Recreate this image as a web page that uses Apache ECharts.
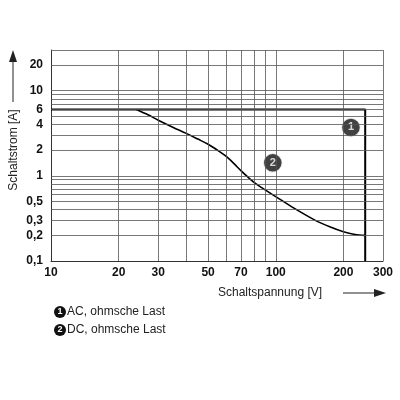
<!DOCTYPE html><html><head><meta charset="utf-8"><script src="https://cdn.jsdelivr.net/npm/echarts@6/dist/echarts.min.js"></script></head><body style="margin:0;background:#fff"><div id="c" style="width:400px;height:400px"></div><script>
const xTicks=[10,20,30,50,70,100,200,300];
const yTicks=[0.1,0.2,0.3,0.5,1,2,4,6,10,20];
const xGrid=[20,30,40,50,60,70,80,90,100,200,300];
const yGrid=[0.2,0.3,0.4,0.5,0.6,0.7,0.8,0.9,1,2,3,4,5,6,7,8,9,10,20,30];
const acX=[10,250,250];const acY=[6,6,0.1];
const dcX=[24,27,30,35,40,45,50,55,60,65,70,75,80,90,100,120,150,175,200,225,250];
const dcY=[6,5.2,4.5,3.7,3.15,2.7,2.35,2.0,1.7,1.4,1.15,0.97,0.84,0.68,0.57,0.42,0.3,0.25,0.22,0.205,0.2];
const markers=[{x:216,y:3.7,t:'1'},{x:97,y:1.42,t:'2'}];
const legend=['AC, ohmsche Last','DC, ohmsche Last'];
const ch=echarts.init(document.getElementById('c'));
ch.setOption({animation:false,
grid:{left:51,right:17,top:50,bottom:139},
xAxis:{type:'log',logBase:10,min:10,max:300,splitLine:{show:false},axisTick:{show:false},axisLine:{lineStyle:{color:'#333'}},
 axisLabel:{customValues:xTicks,color:'#111',fontWeight:'bold',fontSize:12,fontFamily:'Liberation Sans',margin:6}},
yAxis:{type:'log',logBase:10,min:0.1,max:30,splitLine:{show:false},axisTick:{show:false},axisLine:{show:true,lineStyle:{color:'#333'}},
 axisLabel:{customValues:yTicks,color:'#111',fontWeight:'bold',fontSize:12,fontFamily:'Liberation Sans',margin:8,formatter:v=>String(v).replace('.',',')}},
series:[
{type:'line',data:[],markLine:{silent:true,symbol:'none',label:{show:false},lineStyle:{color:'#555',width:0.8,type:'solid'},
 data:xGrid.map(v=>({xAxis:v})).concat(yGrid.map(v=>({yAxis:v})))}},
{type:'line',data:acX.map((x,i)=>[x,acY[i]]),symbol:'none',lineStyle:{color:'#000',width:2}},
{type:'line',data:dcX.map((x,i)=>[x,dcY[i]]),symbol:'none',smooth:0.3,lineStyle:{color:'#000',width:1.6}},
{type:'scatter',data:markers.map(m=>[m.x,m.y,m.t]),symbolSize:19,itemStyle:{color:'#111',borderColor:'#fff',borderWidth:1.5},
 label:{show:true,position:'inside',formatter:p=>p.data[2],color:'#fff',fontWeight:'bold',fontSize:11}}
],
graphic:[
{type:'text',x:14,y:150,rotation:Math.PI/2,style:{text:'Schaltstrom [A]',fill:'#222',font:'12px Liberation Sans',align:'center',verticalAlign:'middle'}},
{type:'line',shape:{x1:13,y1:102,x2:13,y2:60},style:{stroke:'#222',lineWidth:1}},
{type:'polygon',shape:{points:[[9,62],[17,62],[13,50]]},style:{fill:'#222'}},
{type:'text',x:218,y:293,style:{text:'Schaltspannung [V]',fill:'#222',font:'12px Liberation Sans',verticalAlign:'middle'}},
{type:'line',shape:{x1:343,y1:293,x2:378,y2:293},style:{stroke:'#222',lineWidth:1}},
{type:'polygon',shape:{points:[[374,289],[374,297],[386,293]]},style:{fill:'#222'}},
...legend.map((t,i)=>({type:'group',x:60,y:312+i*18,children:[
 {type:'circle',shape:{cx:0,cy:0,r:6},style:{fill:'#111'}},
 {type:'text',x:0,y:0,style:{text:String(i+1),fill:'#fff',font:'bold 9px Liberation Sans',align:'center',verticalAlign:'middle'}},
 {type:'text',x:7,y:0,style:{text:t,fill:'#222',font:'12px Liberation Sans',verticalAlign:'middle'}}]}))
]});
</script></body></html>
